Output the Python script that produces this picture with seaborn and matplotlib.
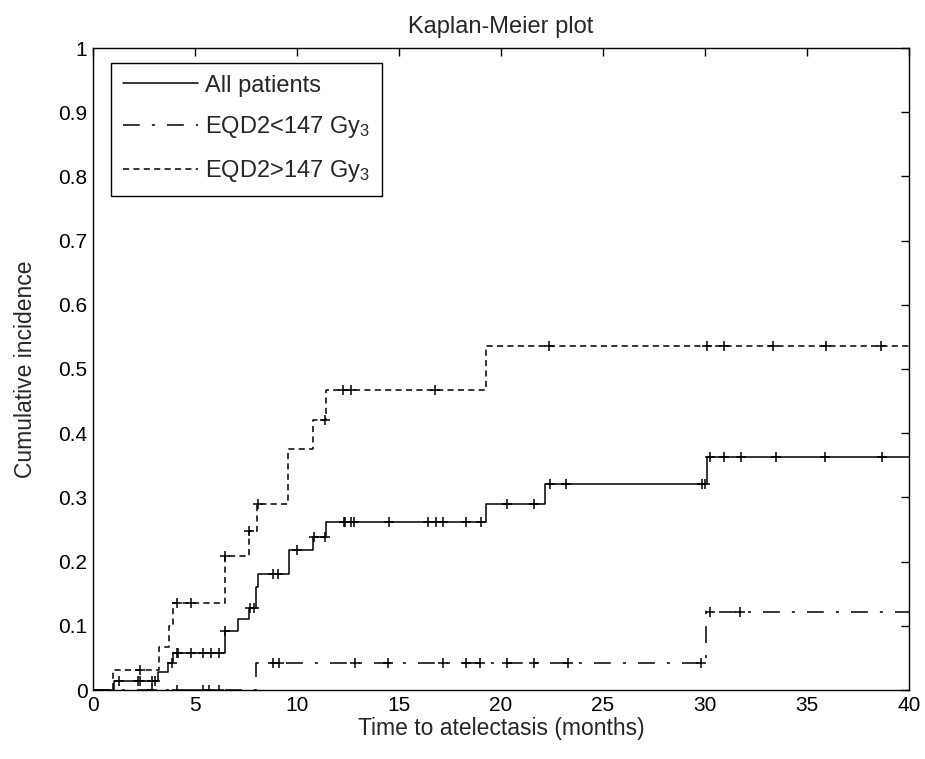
import numpy as np
import matplotlib
matplotlib.use("Agg")
import matplotlib.pyplot as plt
import seaborn as sns

# Kaplan-Meier step curves: step times (months) and cumulative incidence after each step
all_times = [0, 1.03, 3.2, 3.7, 3.9, 6.47, 7.1, 7.66, 7.97, 8.1, 9.6, 10.8, 11.42, 19.26, 22.16, 30.08, 40]
all_inc = [0, 0.014, 0.0275, 0.0425, 0.058, 0.092, 0.110, 0.127, 0.161, 0.181, 0.218, 0.239, 0.261,
           0.290, 0.321, 0.363, 0.363]
all_cens = [1.27, 2.2, 2.3, 2.88, 3.04, 3.85, 4.1, 4.15, 4.79, 5.37, 5.77, 6.18, 6.47, 7.7, 7.9,
            8.84, 9.07, 9.98, 10.85, 11.37, 12.3, 12.35, 12.63, 12.79, 14.5, 16.44, 16.8, 17.14,
            18.27, 19.02, 20.3, 21.6, 22.4, 23.2, 29.84, 30.0, 30.25, 30.93, 31.76, 33.48, 35.9, 38.66]

low_times = [0, 7.97, 30.07, 40]
low_inc = [0, 0.0425, 0.121, 0.121]
low_cens = [2.87, 4.1, 5.37, 5.7, 6.19, 8.84, 9.12, 12.84, 14.48, 17.17, 18.26, 18.97, 20.3, 21.6,
            23.27, 29.8, 30.25, 31.7]

high_times = [0, 1.0, 3.24, 3.73, 3.9, 6.47, 7.65, 8.05, 9.57, 10.8, 11.42, 19.26, 40]
high_inc = [0, 0.031, 0.0675, 0.10, 0.135, 0.209, 0.247, 0.289, 0.376, 0.42, 0.467, 0.536, 0.536]
high_cens = [2.3, 4.13, 4.79, 6.47, 7.65, 8.08, 11.37, 12.25, 12.65, 16.77, 22.35, 30.1, 30.93,
             33.33, 35.93, 38.63]

labels = ["All patients", "EQD2<147 Gy$_3$", "EQD2>147 Gy$_3$"]

sns.set_style("white")
plt.rcParams["font.family"] = ["Liberation Sans", "DejaVu Sans"]
plt.rcParams["mathtext.fontset"] = "custom"
plt.rcParams["mathtext.rm"] = "Liberation Sans"
plt.rcParams["mathtext.it"] = "Liberation Sans:italic"
plt.rcParams["mathtext.default"] = "regular"

fig = plt.figure(figsize=(9.25, 7.59), dpi=100)
ax = fig.add_axes([93 / 925, 69 / 759, 816 / 925, 642 / 759])

curves = [
    (all_times, all_inc, all_cens, "-"),
    (low_times, low_inc, low_cens, (0, (11, 7.9, 2, 7.9))),
    (high_times, high_inc, high_cens, (0, (4, 2.8))),
]

for (times, inc, cens, ls), lab in zip(curves, labels):
    sns.lineplot(x=times, y=inc, ax=ax, drawstyle="steps-post", estimator=None,
                 color="black", linewidth=1.1, linestyle=ls, label=lab)
    # censored observations sit on the current step value
    t = np.asarray(times)
    idx = np.searchsorted(t, cens, side="right") - 1
    cens_y = np.asarray(inc)[idx]
    sns.scatterplot(x=cens, y=cens_y, ax=ax, marker="+", color="black", s=45,
                    linewidth=1.1, legend=False, zorder=3)

ax.set_xlim(0, 40)
ax.set_ylim(0, 1)
ax.set_xticks(np.arange(0, 41, 5))
ax.set_yticks(np.round(np.arange(0, 1.01, 0.1), 1))
ax.set_yticklabels(["0"] + [f"{v:.1f}" for v in np.arange(0.1, 0.95, 0.1)] + ["1"])
ax.tick_params(direction="in", top=True, right=True, length=6, width=1,
               labelsize=15, colors="black", pad=4)
for sp in ax.spines.values():
    sp.set_visible(True)
    sp.set_color("black")
    sp.set_linewidth(1.0)

ax.set_title("Kaplan-Meier plot", fontsize=17, pad=11)
ax.set_xlabel("Time to atelectasis (months)", fontsize=16.5, labelpad=2)
ax.set_ylabel("Cumulative incidence", fontsize=16.5, labelpad=15)

leg = ax.legend(loc="upper left", bbox_to_anchor=(0.0217, 0.977), borderaxespad=0,
                fontsize=17, handlelength=3.2, handletextpad=0.3, labelspacing=0.75,
                fancybox=False, framealpha=1, edgecolor="black", borderpad=0.5)
leg.get_frame().set_linewidth(1.0)

fig.savefig("out.png", dpi=100)
